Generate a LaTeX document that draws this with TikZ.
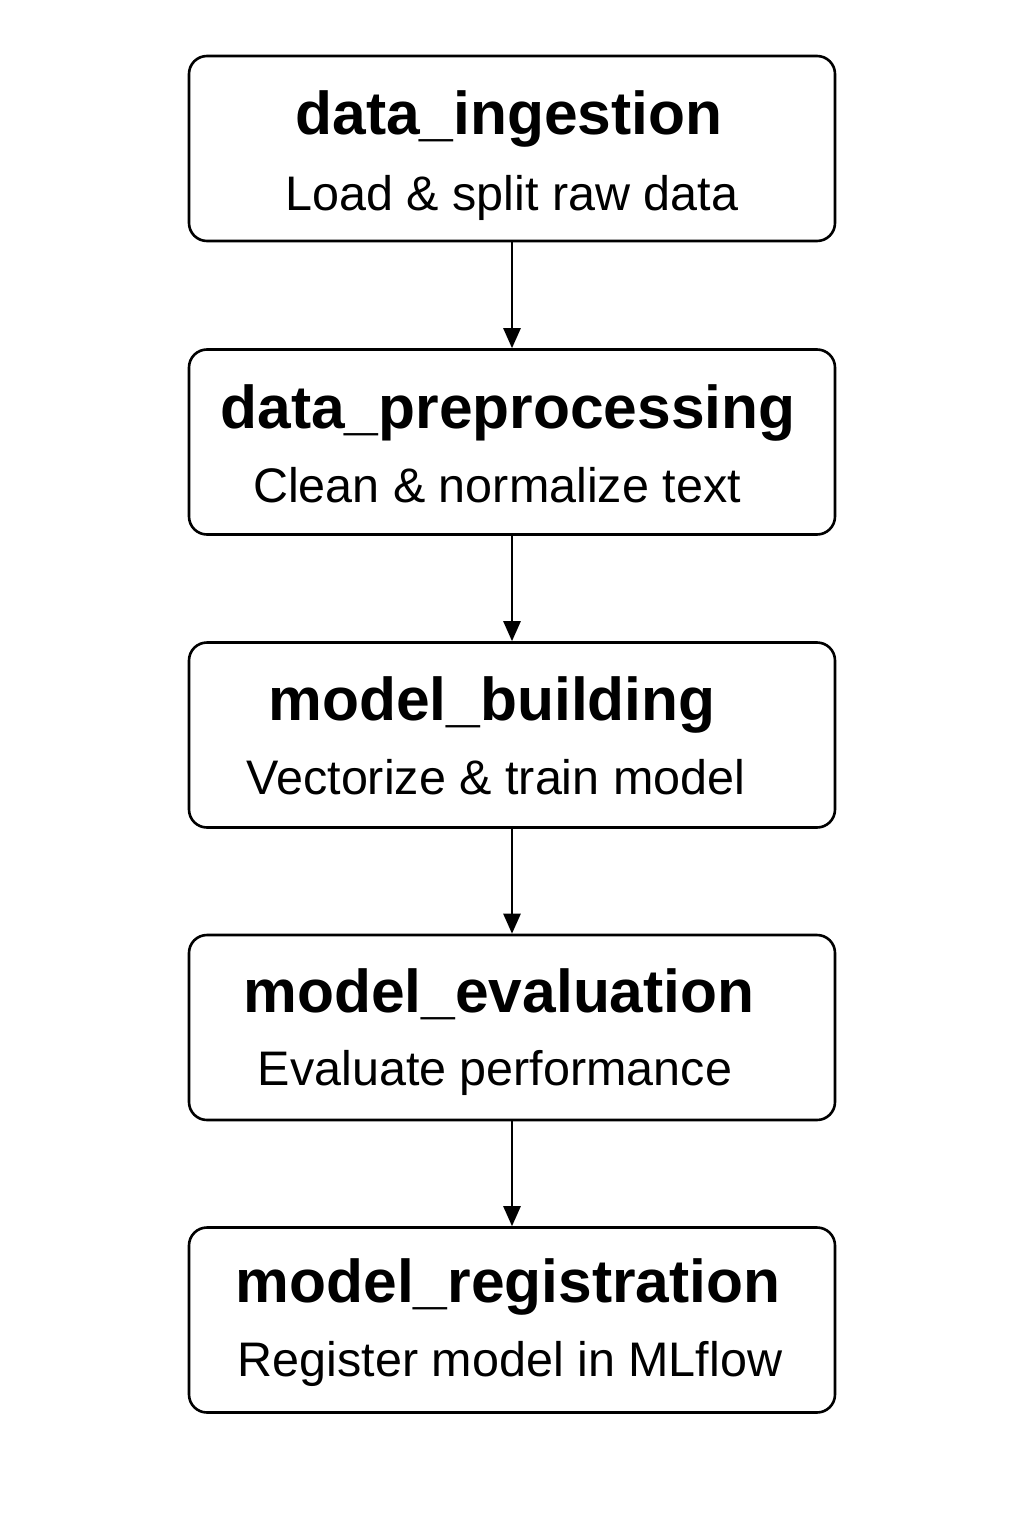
\documentclass[tikz,border=0pt]{standalone}
\usepackage{fontspec}
\setmainfont{Liberation Sans}
\usetikzlibrary{arrows.meta}
\begin{document}
\begin{tikzpicture}[x=1pt,y=-1pt,
  stage/.style={draw=black,line width=2.6pt,rounded corners=18pt,minimum width=646pt,minimum height=185pt,inner sep=0pt},
  ttl/.style={anchor=base,font=\fontsize{60.5}{66}\selectfont\bfseries,inner sep=0pt},
  sub/.style={anchor=base,font=\fontsize{48.5}{53}\selectfont,inner sep=0pt},
  flow/.style={line width=2.6pt,-{Triangle[length=20pt,width=17pt]}}]
\useasboundingbox (0,0) rectangle (1024,1536);
\fill[white] (0,0) rectangle (1024,1536);
\node[stage] (b1) at (512,148.5) {};
\node[stage] (b2) at (512,442) {};
\node[stage] (b3) at (512,735) {};
\node[stage] (b4) at (512,1027.5) {};
\node[stage] (b5) at (512,1320) {};
\node[ttl] (t1) at (509,135) {data\_ingestion};
\node[sub] (s1) at (512,210) {Load \& split raw data};
\node[ttl] (t2) at (508,428) {data\_preprocessing};
\node[sub] (s2) at (497,502) {Clean \& normalize text};
\node[ttl] (t3) at (492,720) {model\_building};
\node[sub] (s3) at (496,794) {Vectorize \& train model};
\node[ttl] (t4) at (499,1012) {model\_evaluation};
\node[sub] (s4) at (495,1085) {Evaluate performance};
\node[ttl] (t5) at (508,1302) {model\_registration};
\node[sub] (s5) at (510,1376) {Register model in MLflow};
\draw[flow] (b1.south) -- (b2.north);
\draw[flow] (b2.south) -- (b3.north);
\draw[flow] (b3.south) -- (b4.north);
\draw[flow] (b4.south) -- (b5.north);
\end{tikzpicture}
\end{document}
